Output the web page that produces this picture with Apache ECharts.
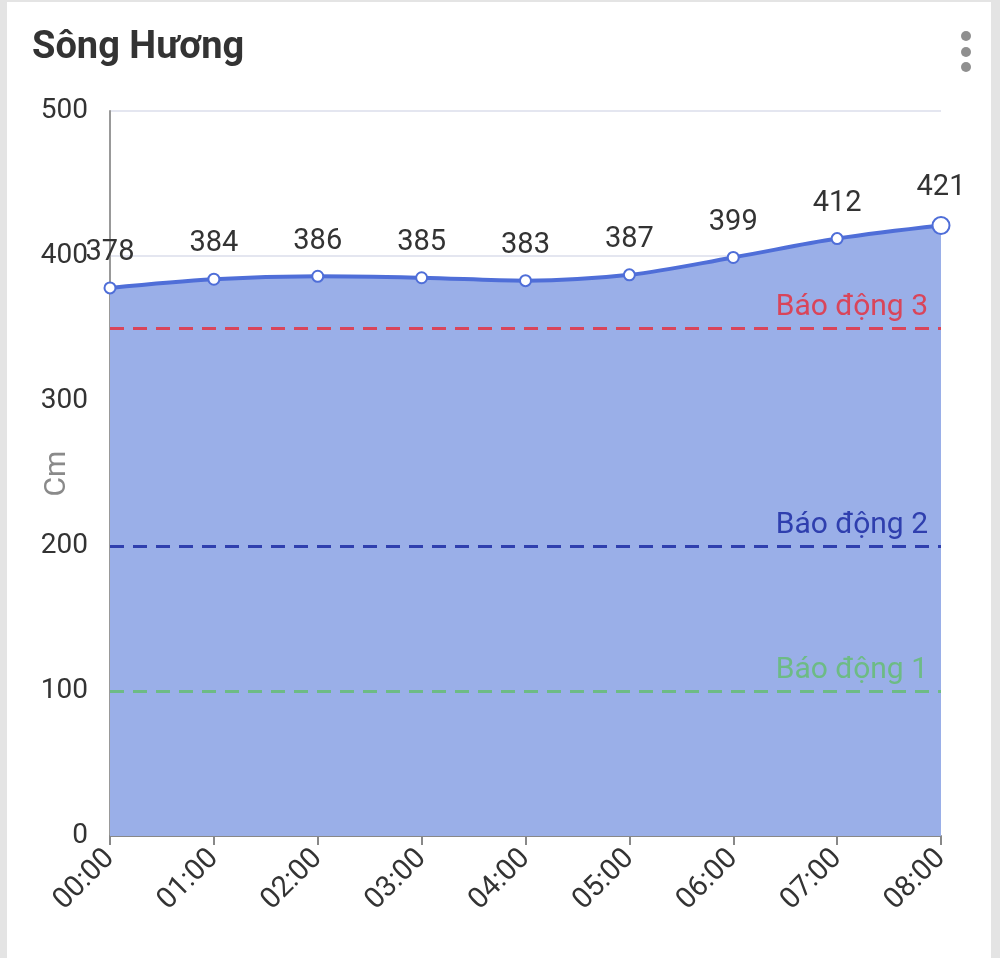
<!DOCTYPE html>
<html>
<head>
<meta charset="utf-8">
<script src="https://cdn.jsdelivr.net/npm/echarts@6/dist/echarts.min.js"></script>
<style>
html,body{margin:0;padding:0;background:#e4e4e4;}
#card{position:absolute;left:7px;top:2px;width:984px;height:956px;background:#fff;}
#chart{position:absolute;left:0;top:0;width:1000px;height:958px;}
</style>
</head>
<body>
<div id="card"></div>
<div id="chart"></div>
<script>
const titleText = 'Sông Hương';
const categories = ['00:00','01:00','02:00','03:00','04:00','05:00','06:00','07:00','08:00'];
const levels = [378,384,386,385,383,387,399,412,421];
const alertNames = ['Báo động 3','Báo động 2','Báo động 1'];
const alertValues = [350,200,100];
const alertColors = ['#d9455a','#2f3fae','#6dbb85'];
const yTicks = {min:0,max:500,interval:100};

const chart = echarts.init(document.getElementById('chart'), null, {renderer:'canvas'});
const font = 'Roboto, "Noto Sans", sans-serif';
chart.setOption({
  animation:false,
  title:{text:titleText,left:27,top:24,textStyle:{fontFamily:font,fontSize:38,fontWeight:'bold',color:'#333'}},
  graphic:[
    {type:'circle',shape:{cx:966,cy:36,r:5},style:{fill:'#8f8f8f'}},
    {type:'circle',shape:{cx:966,cy:52,r:5},style:{fill:'#8f8f8f'}},
    {type:'circle',shape:{cx:966,cy:67,r:5},style:{fill:'#8f8f8f'}}
  ],
  grid:{left:110,right:59,top:111,bottom:122,containLabel:false,outerBoundsMode:'none'},
  xAxis:{type:'category',data:categories,boundaryGap:false,
    axisLine:{show:true,lineStyle:{color:'#888',width:2}},
    axisTick:{show:true,alignWithLabel:true,length:9,lineStyle:{color:'#888',width:2}},
    axisLabel:{rotate:45,fontSize:29,color:'#333',fontFamily:font,margin:18},
    splitLine:{show:false}},
  yAxis:{type:'value',min:yTicks.min,max:yTicks.max,interval:yTicks.interval,
    name:'Cm',nameLocation:'middle',nameGap:38,nameRotate:90,nameMoveOverlap:false,
    nameTextStyle:{fontSize:30,color:'#8a8a8a',fontFamily:font},
    axisLine:{show:true,lineStyle:{color:'#999',width:2}},
    axisTick:{show:false},
    axisLabel:{fontSize:28,color:'#333',fontFamily:font,margin:22},
    splitLine:{show:true,lineStyle:{color:'#e4e6f0',width:2}}},
  series:[{
    type:'line',data:levels.map((v,i)=> i===levels.length-1 ? {value:v,symbolSize:17} : v),
    smooth:0.35,symbol:'emptyCircle',symbolSize:11,
    lineStyle:{color:'#4f6ed8',width:4},
    itemStyle:{color:'#4f6ed8',borderWidth:3.5},
    areaStyle:{color:'#9aafe8',opacity:1},
    label:{show:true,position:'top',distance:14,fontSize:29,color:'#333',fontFamily:font},
    markLine:{symbol:['none','none'],silent:true,
      data:alertValues.map((v,i)=>({yAxis:v,name:alertNames[i],
        lineStyle:{color:alertColors[i],type:[14,9],width:3},
        label:{show:true,position:'insideEndTop',formatter:alertNames[i],color:alertColors[i],fontSize:30,fontFamily:font,distance:[13,6]}}))}
  }]
});
</script>
</body>
</html>
